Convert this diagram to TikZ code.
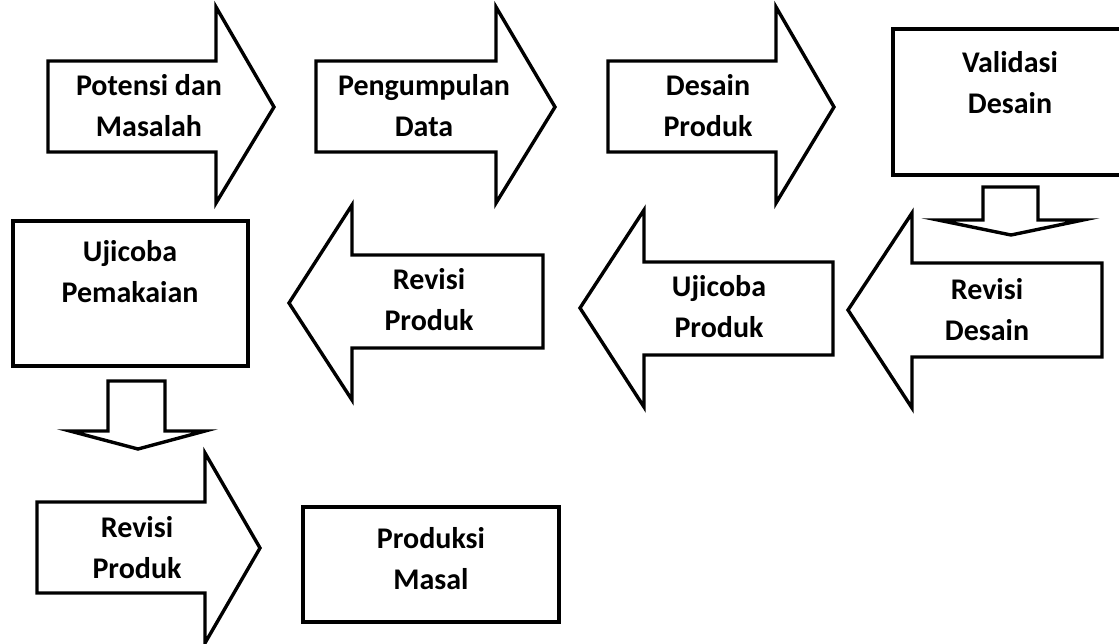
\documentclass[tikz,border=0pt]{standalone}
\usepackage{fontspec}
\setmainfont{Carlito}

\begin{document}
\begin{tikzpicture}[x=0.5pt,y=-0.5pt,
    blockline/.style={draw=black,line width=1.7pt,fill=white,line join=miter},
    steptext/.style={font=\fontsize{15}{20.5}\selectfont\bfseries,align=center,inner sep=0pt}]
\clip (0,0) rectangle (1119,643);
            % Row 1 arrows
\draw[blockline] (48,61) -- (216,61) -- (216,7) -- (274,107) -- (216,203) -- (216,152) -- (48,152) -- cycle;%A1
\draw[blockline] (316,61) -- (496,61) -- (496,7) -- (555,107) -- (496,203) -- (496,152) -- (316,152) -- cycle;%A2
\draw[blockline] (608,61) -- (776,61) -- (776,7) -- (834,107) -- (776,203) -- (776,152) -- (608,152) -- cycle;%A3
\draw[blockline] (893,29) rectangle (1127,175);%B1
\draw[blockline] (983,187) -- (1038,187) -- (1038,220) -- (1083,220) -- (1011,235) -- (938,220) -- (983,220) -- cycle;%D1
            % Row 2 arrows
\draw[blockline] (1102,263) -- (912,263) -- (912,213) -- (848,310) -- (912,408) -- (912,357) -- (1102,357) -- cycle;%A4
\draw[blockline] (833,262) -- (644,262) -- (644,210) -- (580,308) -- (644,407) -- (644,355) -- (833,355) -- cycle;%A5
\draw[blockline] (543,255) -- (352,255) -- (352,205) -- (289,303) -- (352,400) -- (352,348) -- (543,348) -- cycle;%A6
\draw[blockline] (13,221) rectangle (248,366);%B2
\draw[blockline] (108,381) -- (165,381) -- (165,431) -- (205,431) -- (138,449) -- (70,431) -- (108,431) -- cycle;%D2
            % Row 3
\draw[blockline] (37,502) -- (205,502) -- (205,453) -- (260,548) -- (205,643) -- (205,593) -- (37,593) -- cycle;%A7
\draw[blockline] (303,507) rectangle (559,622);%B3
            % Labels
\node[steptext] (potensi) at (149,106) {Potensi dan\\Masalah};
\node[steptext] (pengumpulan) at (424,106) {Pengumpulan\\Data};
\node[steptext] (desain) at (708,106) {Desain\\Produk};
\node[steptext] (validasi) at (1010,83) {Validasi\\Desain};
\node[steptext] (revdesain) at (987,310) {Revisi\\Desain};
\node[steptext] (ujiproduk) at (719,307) {Ujicoba\\Produk};
\node[steptext] (revproduk) at (429,300) {Revisi\\Produk};
\node[steptext] (ujipakai) at (130,272) {Ujicoba\\Pemakaian};
\node[steptext] (revproduk2) at (137,548) {Revisi\\Produk};
\node[steptext] (produksi) at (431,559) {Produksi\\Masal};
\end{tikzpicture}
\end{document}
